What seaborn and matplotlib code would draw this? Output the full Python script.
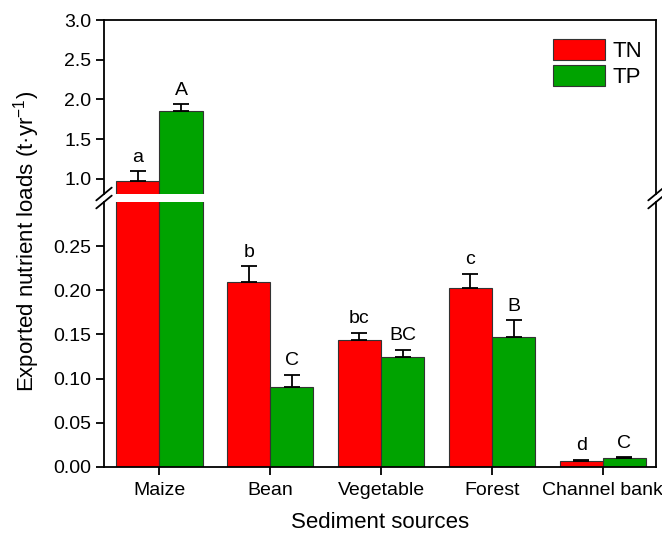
import numpy as np
import pandas as pd
import matplotlib
matplotlib.use("Agg")
import matplotlib.pyplot as plt
import seaborn as sns
from matplotlib.patches import Patch

# Exported nutrient loads by sediment source (t·yr-1)
sources = ["Maize", "Bean", "Vegetable", "Forest", "Channel bank"]
tn_mean = [0.975, 0.210, 0.144, 0.203, 0.007]
tn_err = [0.120, 0.017, 0.008, 0.016, 0.001]
tp_mean = [1.850, 0.090, 0.125, 0.147, 0.010]
tp_err = [0.090, 0.014, 0.008, 0.019, 0.001]
tn_letters = ["a", "b", "bc", "c", "d"]
tp_letters = ["A", "C", "BC", "B", "C"]
nutrients = ["TN", "TP"]
palette = {"TN": "#FF0000", "TP": "#00A300"}

df = pd.DataFrame({
    "source": sources * 2,
    "nutrient": ["TN"] * len(sources) + ["TP"] * len(sources),
    "load": tn_mean + tp_mean,
})
errs = {"TN": tn_err, "TP": tp_err}
letters = {"TN": tn_letters, "TP": tp_letters}

sns.set_style("ticks")
plt.rcParams["font.family"] = ["Liberation Sans", "DejaVu Sans"]
plt.rcParams["mathtext.default"] = "regular"
plt.rcParams["axes.linewidth"] = 1.3
for key in ("text.color", "axes.labelcolor", "xtick.color", "ytick.color",
            "axes.edgecolor"):
    plt.rcParams[key] = "black"

fig = plt.figure(figsize=(6.62, 5.34), dpi=100)
left, right = 104 / 662, 656 / 662
ax_top = fig.add_axes([left, 0.6367, right - left, 0.9625 - 0.6367])
ax_bot = fig.add_axes([left, 0.1255, right - left, 0.6217 - 0.1255])

for ax in (ax_top, ax_bot):
    sns.barplot(data=df, x="source", y="load", hue="nutrient", order=sources,
                hue_order=nutrients, palette=palette, width=0.78, dodge=True,
                edgecolor="#333333", linewidth=0.8, saturation=1, legend=False,
                errorbar=None, ax=ax)
    ax.set_xlim(-0.5, 4.48)
    ax.set_xlabel("")
    ax.set_ylabel("")
    for cont, nut in zip(ax.containers, nutrients):
        for i, bar in enumerate(cont):
            xc = bar.get_x() + bar.get_width() / 2
            h = bar.get_height()
            e = errs[nut][i]
            ax.errorbar(xc, h, yerr=[[0], [e]], fmt="none", ecolor="black",
                        elinewidth=1.3, capsize=5.5, capthick=1.3)
            ax.annotate(letters[nut][i], (xc, h + e), xytext=(0, 7),
                        textcoords="offset points", ha="center", va="baseline",
                        fontsize=14, color="black", annotation_clip=True)

ax_top.set_ylim(0.81, 3.0)
ax_bot.set_ylim(0.0, 0.30)
ax_top.set_yticks([1.0, 1.5, 2.0, 2.5, 3.0])
ax_top.set_yticklabels([f"{v:.1f}" for v in ax_top.get_yticks()])
ax_bot.set_yticks([0.00, 0.05, 0.10, 0.15, 0.20, 0.25])
ax_bot.set_yticklabels([f"{v:.2f}" for v in ax_bot.get_yticks()])

ax_top.spines["bottom"].set_visible(False)
ax_bot.spines["top"].set_visible(False)
for ax in (ax_top, ax_bot):
    ax.spines["right"].set_visible(True)
    for s in ax.spines.values():
        s.set_color("black")
    ax.tick_params(axis="y", direction="out", length=6, width=1.3, labelsize=14,
                   left=True, right=False, pad=3, colors="black")
ax_top.tick_params(axis="x", bottom=False, labelbottom=False)
ax_bot.tick_params(axis="x", direction="out", length=6, width=1.3, labelsize=14,
                   pad=5, colors="black")

# break marks on both spines
d_x = 0.014
for ax, frac in ((ax_top, 0.0), (ax_bot, 1.0)):
    h_ax = ax.get_position().height
    dy = 0.012 / h_ax
    for xs in (0.0, 1.0):
        ax.plot([xs - d_x, xs + d_x], [frac - dy, frac + dy], transform=ax.transAxes,
                color="black", lw=1.3, clip_on=False)

fig.text(0.04, 0.547, "Exported nutrient loads (t·yr$^{-1}$)", rotation=90,
         ha="center", va="center", fontsize=16, color="black")
ax_bot.set_xlabel("Sediment sources", fontsize=16, labelpad=9, color="black")

handles = [Patch(facecolor=palette[n], edgecolor="#333333", linewidth=0.8) for n in nutrients]
ax_top.legend(handles, nutrients, loc="upper right", bbox_to_anchor=(1.0, 0.97),
              frameon=False, fontsize=16, handlelength=2.35, handleheight=1.1,
              labelspacing=0.15, handletextpad=0.35, borderaxespad=0.2,
              labelcolor="black")

fig.savefig("out.png", dpi=100)
